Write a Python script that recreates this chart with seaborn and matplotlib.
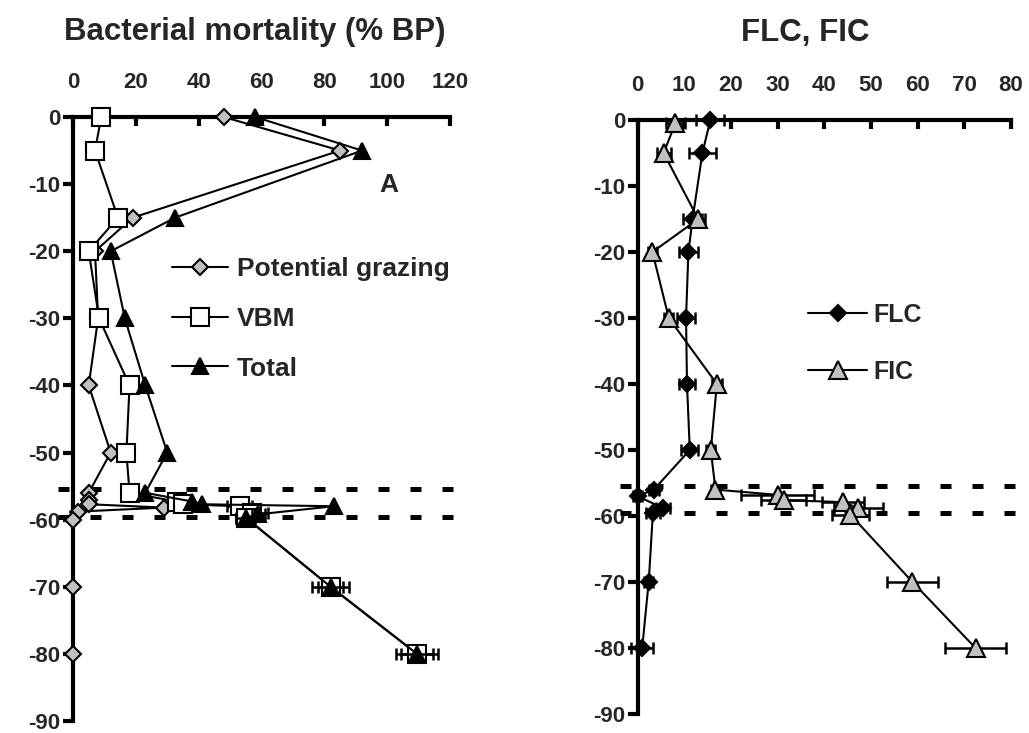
import matplotlib
matplotlib.use("Agg")
import matplotlib.pyplot as plt
from matplotlib.lines import Line2D
import numpy as np
import pandas as pd
import seaborn as sns

# ---------------- data ----------------
depth_ticks = [0, -10, -20, -30, -40, -50, -60, -70, -80, -90]
left_xticks = [0, 20, 40, 60, 80, 100, 120]
right_xticks = [0, 10, 20, 30, 40, 50, 60, 70, 80]
interface_depths = [-55.5, -59.6]

# Panel A: bacterial mortality (% BP)
grazing_depth = [0, -5, -15, -20, -30, -40, -50, -56, -57, -57.7, -58.2, -58.8, -60, -70, -80]
grazing_val = [48, 85, 19, 7, 8, 5, 12, 5, 5, 5, 29, 1.5, 0, 0, 0]

vbm_depth = [0, -5, -15, -20, -30, -40, -50, -56, -57.3, -57.7, -58, -59, -59.7, -70, -80]
vbm_val = [9, 7, 14.3, 5, 8.3, 18, 17, 18, 33, 35, 53, 57, 55, 82, 109.5]
vbm_err = [0, 0, 0, 0, 0, 0, 0, 0, 0, 0, 4, 5, 3, 5.9, 6.8]

total_depth = [0, -5, -15, -20, -30, -40, -50, -56, -57.3, -57.7, -58, -59.2, -59.7, -70, -80]
total_val = [58, 92, 32.5, 12, 16.5, 23, 30, 23, 38, 41, 83, 59, 55, 82, 109.5]
total_err = [0, 0, 0, 0, 0, 0, 0, 0, 0, 0, 0, 2, 3, 4, 5]

# Panel B: FLC, FIC
flc_depth = [0, -5, -15, -20, -30, -40, -50, -56, -57, -58.8, -59.5, -70, -80]
flc_val = [15.6, 13.9, 11.8, 10.9, 10.4, 10.6, 11.2, 3.5, 0, 5.5, 3.3, 2.4, 1.0]
flc_err = [3, 2.9, 2, 2.1, 2, 1.8, 1.8, 1, 1, 1.5, 1.5, 1, 2.3]

fic_depth = [-0.5, -5, -15, -20, -30, -40, -50, -56, -56.8, -57.6, -57.9, -58.8, -59.8, -70, -80]
fic_val = [8.1, 5.6, 13, 3.2, 6.7, 17, 15.7, 16.7, 30, 31.3, 44.1, 47.3, 45.6, 58.9, 72.4]
fic_err = [2, 1.5, 1.5, 1, 1, 1, 1, 1, 7.8, 4.8, 4.5, 5.2, 4, 5.5, 6.6]

# ---------------- style ----------------
sns.set_theme(style="white")
plt.rcParams["font.family"] = ["Liberation Sans", "DejaVu Sans"]
plt.rcParams["font.weight"] = "bold"
plt.rcParams["axes.unicode_minus"] = False

GRAY = "#C0C0C0"
W, H = 1029, 733
fig = plt.figure(figsize=(W / 100, H / 100), dpi=100)
fig.patch.set_facecolor("white")

axL = fig.add_axes([73 / W, 1 - 721 / H, (450 - 73) / W, (721 - 117) / H])
axR = fig.add_axes([637.5 / W, 1 - 714 / H, (1011 - 637.5) / W, (714 - 120) / H])


def series(ax, x, y, marker, ms, mfc, z):
    sns.lineplot(x=x, y=y, sort=False, estimator=None, ax=ax, color="black",
                 linewidth=1.5, marker=marker, markersize=ms,
                 markerfacecolor=mfc, markeredgecolor="black",
                 markeredgewidth=1.5, clip_on=False, zorder=z)


def errs(ax, x, y, e, z):
    x = np.asarray(x, float); y = np.asarray(y, float); e = np.asarray(e, float)
    m = e > 0
    ax.errorbar(x[m], y[m], xerr=e[m], fmt="none", ecolor="black",
                elinewidth=1.8, capsize=4.5, capthick=1.8, zorder=z, clip_on=False)


# Left panel
series(axL, grazing_val, grazing_depth, "D", 7.8, GRAY, 4)
errs(axL, vbm_val, vbm_depth, vbm_err, 4.5)
series(axL, vbm_val, vbm_depth, "s", 13, "white", 5)
errs(axL, total_val, total_depth, total_err, 5.5)
series(axL, total_val, total_depth, "^", 11.5, "black", 6)

# Right panel
errs(axR, flc_val, flc_depth, flc_err, 4)
series(axR, flc_val, flc_depth, "D", 8.5, "black", 4.5)
errs(axR, fic_val, fic_depth, fic_err, 5)
series(axR, fic_val, fic_depth, "^", 13, GRAY, 5.5)

for ax, xt, xmax, dx in ((axL, left_xticks, 120, (-0.04, 1.025)),
                         (axR, right_xticks, 80, (-0.047, 1.02))):
    ax.set_xlim(0, xmax)
    ax.set_ylim(-90, 0)
    ax.set_xticks(xt)
    ax.set_yticks(depth_ticks)
    ax.set_xticklabels([str(v) for v in xt])
    ax.set_yticklabels([str(v) for v in depth_ticks])
    ax.set_xlabel("")
    ax.set_ylabel("")
    ax.grid(False)
    ax.set_facecolor("none")
    for s in ("right", "bottom"):
        ax.spines[s].set_visible(False)
    for s in ("top", "left"):
        ax.spines[s].set_visible(True)
        ax.spines[s].set_linewidth(3)
        ax.spines[s].set_color("black")
    ax.xaxis.tick_top()
    ax.tick_params(axis="x", which="both", direction="in", length=6.5, width=3,
                   pad=17, labelsize=16, top=True, bottom=False,
                   labeltop=True, labelbottom=False, color="black")
    ax.tick_params(axis="y", direction="out", length=7, width=3, pad=2,
                   labelsize=16, left=True, right=False, color="black")
    for d in interface_depths:
        ax.axhline(d, xmin=dx[0], xmax=dx[1], color="black", linewidth=3.6,
                   linestyle=(0, (2.2, 4.2)), clip_on=False, zorder=1.5)

axL.text(100.6, -10.1, "A", ha="center", va="center", fontsize=19, fontweight="bold")

fig.text(255 / W, 1 - 32 / H, "Bacterial mortality (% BP)", ha="center", va="center",
         fontsize=22.5, fontweight="bold")
fig.text(805 / W, 1 - 33 / H, "FLC, FIC", ha="center", va="center",
         fontsize=22.5, fontweight="bold")

# Legends
hL = [Line2D([], [], color="black", lw=1.5, marker="D", ms=7.8, mfc=GRAY, mec="black", mew=1.5),
      Line2D([], [], color="black", lw=1.5, marker="s", ms=13, mfc="white", mec="black", mew=1.5),
      Line2D([], [], color="black", lw=1.5, marker="^", ms=11.5, mfc="black", mec="black", mew=1.5)]
legL = axL.legend(hL, ["Potential grazing", "VBM", "Total"], loc="upper left",
                  bbox_to_anchor=(172 / W, 1 - 257 / H), bbox_transform=fig.transFigure,
                  frameon=False, fontsize=19, handlelength=2.12, handletextpad=0.34,
                  labelspacing=0.98, borderpad=0, borderaxespad=0)

hR = [Line2D([], [], color="black", lw=1.5, marker="D", ms=8.5, mfc="black", mec="black", mew=1.5),
      Line2D([], [], color="black", lw=1.5, marker="^", ms=13, mfc=GRAY, mec="black", mew=1.5)]
legR = axR.legend(hR, ["FLC", "FIC"], loc="upper left",
                  bbox_to_anchor=(808 / W, 1 - 303 / H), bbox_transform=fig.transFigure,
                  frameon=False, fontsize=18, handlelength=2.36, handletextpad=0.24,
                  labelspacing=1.32, borderpad=0, borderaxespad=0)

fig.savefig("out.png", dpi=100, facecolor="white")
